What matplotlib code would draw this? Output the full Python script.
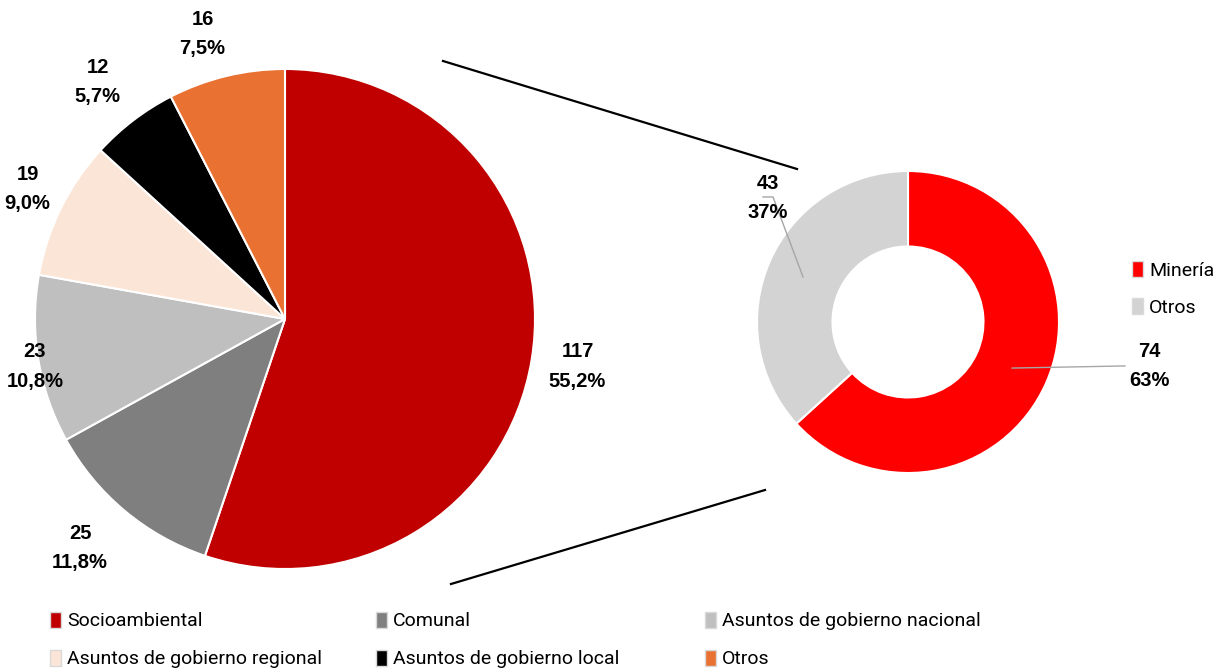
import matplotlib.pyplot as plt
from matplotlib.patches import Patch
from matplotlib.lines import Line2D

# datos del gráfico principal
categorias = ['Socioambiental', 'Comunal', 'Asuntos de gobierno nacional',
              'Asuntos de gobierno regional', 'Asuntos de gobierno local', 'Otros']
casos = [117, 25, 23, 19, 12, 16]
porcentajes = ['55,2%', '11,8%', '10,8%', '9,0%', '5,7%', '7,5%']
colores = ['#C00000', '#7F7F7F', '#BFBFBF', '#FBE5D6', '#000000', '#E97132']

# desglose de socioambiental
sub_categorias = ['Minería', 'Otros']
sub_casos = [74, 43]
sub_porcentajes = ['63%', '37%']
sub_colores = ['#FF0000', '#D3D3D3']

W, H = 1216, 668
fig = plt.figure(figsize=(W / 100, H / 100), dpi=100)
narrow = ['Roboto', 'DejaVu Sans']
bold_kw = dict(fontsize=14.5, fontweight='bold', family=['Liberation Sans', 'DejaVu Sans'],
               ha='center', va='center', linespacing=1.7)

# pie grande
ax1 = fig.add_axes([35 / W, 1 - 569 / H, 500 / W, 500 / H])
ax1.pie(casos, colors=colores, startangle=90, counterclock=False,
        wedgeprops=dict(edgecolor='white', linewidth=1.5))
ax1.set_xlim(-1, 1)
ax1.set_ylim(-1, 1)
pos1 = [(1.17, -0.19), (-0.82, -0.916), (-1.0, -0.19), (-1.03, 0.52), (-0.75, 0.948), (-0.33, 1.14)]
for (x, y), n, p in zip(pos1, casos, porcentajes):
    ax1.text(x, y, f'{n}\n{p}', **bold_kw)

# dona
ax2 = fig.add_axes([757 / W, 1 - 473 / H, 302 / W, 302 / H])
ax2.pie(sub_casos, colors=sub_colores, startangle=90, counterclock=False,
        wedgeprops=dict(width=0.5, edgecolor='white', linewidth=1.5))
ax2.set_xlim(-1, 1)
ax2.set_ylim(-1, 1)
ax2.text(1.60, -0.29, f'{sub_casos[0]}\n{sub_porcentajes[0]}', **bold_kw)
ax2.text(-0.93, 0.82, f'{sub_casos[1]}\n{sub_porcentajes[1]}', **bold_kw)
ax2.plot([0.689, 1.437], [-0.305, -0.291], color='#A6A6A6', lw=1, clip_on=False)
ax2.plot([-0.96, -0.894, -0.695], [0.828, 0.828, 0.298], color='#A6A6A6', lw=1, clip_on=False)

ax2.legend([Patch(facecolor=c, edgecolor='#D9D9D9') for c in sub_colores], sub_categorias,
           loc='center left', bbox_to_anchor=(1114 / W, 1 - 289 / H),
           bbox_transform=fig.transFigure, frameon=False, prop={'family': narrow, 'size': 14},
           handlelength=0.6, handleheight=0.9, handletextpad=0.3, labelspacing=0.95)

# líneas de conexión
for (x0, y0), (x1, y1) in [((443, 61), (797, 169)), ((451, 584), (765, 490))]:
    fig.add_artist(Line2D([x0 / W, x1 / W], [1 - y0 / H, 1 - y1 / H],
                          transform=fig.transFigure, color='black', lw=1.6))

# leyenda inferior, una por columna
col_x = [32, 358, 687]
for i, x in enumerate(col_x):
    idx = [i, i + 3]
    fig.legend([Patch(facecolor=colores[j], edgecolor='#D9D9D9') for j in idx],
               [categorias[j] for j in idx],
               loc='center left', bbox_to_anchor=(x / W, 1 - 640 / H),
               frameon=False, prop={'family': narrow, 'size': 14},
               handlelength=0.6, handleheight=0.9, handletextpad=0.3, labelspacing=1.0)

fig.savefig('out.png', dpi=100)
